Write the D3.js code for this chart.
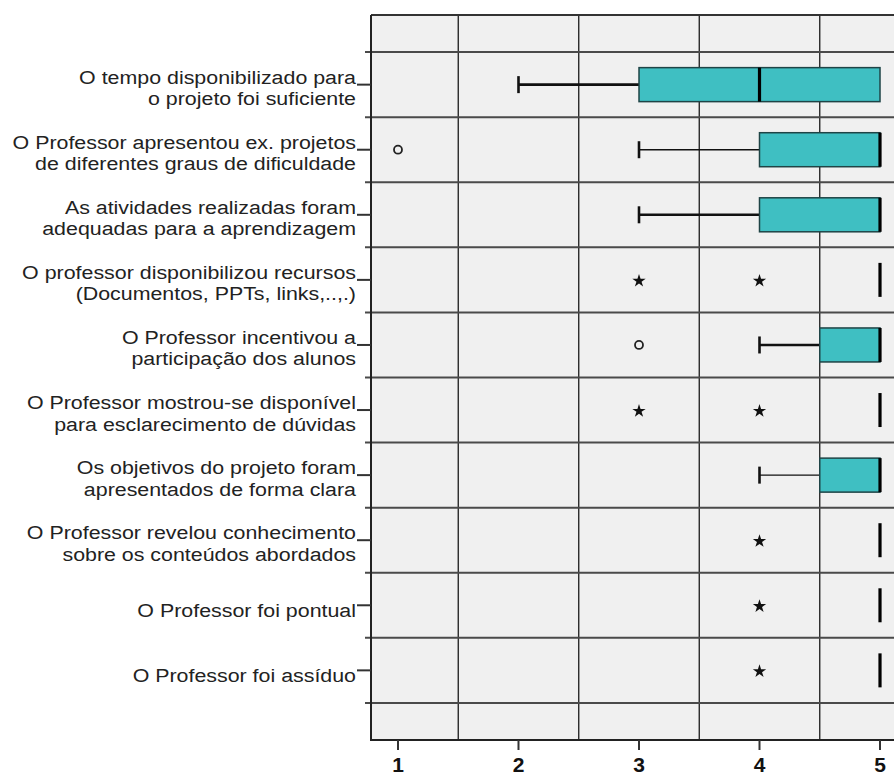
<!DOCTYPE html>
<html>
<head>
<meta charset="utf-8">
<script src="https://cdn.jsdelivr.net/npm/d3@7"></script>
<style>
  html, body { margin: 0; padding: 0; background: #ffffff; }
  svg { display: block; }
  text { font-family: "Liberation Sans", Arial, sans-serif; }
</style>
</head>
<body>
<div id="chart"></div>
<script>
// Survey items (one per row), each split over its display lines
const categories = [
  ["O tempo disponibilizado para", "o projeto foi suficiente"],
  ["O Professor apresentou ex. projetos", "de diferentes graus de dificuldade"],
  ["As atividades realizadas foram", "adequadas para a aprendizagem"],
  ["O professor disponibilizou recursos", "(Documentos, PPTs, links,..,.)"],
  ["O Professor incentivou a", "participação dos alunos"],
  ["O Professor mostrou-se disponível", "para esclarecimento de dúvidas"],
  ["Os objetivos do projeto foram", "apresentados de forma clara"],
  ["O Professor revelou conhecimento", "sobre os conteúdos abordados"],
  ["O Professor foi pontual"],
  ["O Professor foi assíduo"]
];

// Five-number summaries per item (Likert scale 1–5)
const whiskerLow  = [2, 3, 3, 5, 4, 5, 4, 5, 5, 5];
const quartile1   = [3, 4, 4, 5, 4.5, 5, 4.5, 5, 5, 5];
const medians     = [4, 5, 5, 5, 5, 5, 5, 5, 5, 5];
const quartile3   = [5, 5, 5, 5, 5, 5, 5, 5, 5, 5];
const whiskerHigh = [5, 5, 5, 5, 5, 5, 5, 5, 5, 5];

// Outliers (circles) and extreme values (stars)
const outliers = [[], [1], [], [], [3], [], [], [], [], []];
const extremes = [[], [], [], [3, 4], [], [3, 4], [], [4], [4], [4]];

const xTicks = [1, 2, 3, 4, 5];

const W = 894, H = 775;
const plotLeft = 371, plotTop = 15, plotBottom = 740;

const svg = d3.select("#chart").append("svg")
  .attr("width", W).attr("height", H);

const x = d3.scaleLinear().domain([0.776, 5.224]).range([plotLeft, 907]);
const y = d3.scaleLinear().domain([-1.07, categories.length - 1 + 1.07]).range([plotTop, plotBottom]);

// plot background
svg.append("rect")
  .attr("x", plotLeft).attr("y", plotTop)
  .attr("width", x.range()[1] - plotLeft).attr("height", plotBottom - plotTop)
  .attr("fill", "#f0f0f0");

// vertical grid lines between scale points
const vGrid = [1.5, 2.5, 3.5, 4.5];
svg.append("g").selectAll("line").data(vGrid).join("line")
  .attr("x1", d => x(d)).attr("x2", d => x(d))
  .attr("y1", plotTop).attr("y2", plotBottom)
  .attr("stroke", "#1a1a1a").attr("stroke-width", 1.3);

// horizontal grid lines between rows (extending slightly past the axis)
const hGrid = d3.range(categories.length + 1).map(i => i - 0.5);
svg.append("g").selectAll("line").data(hGrid).join("line")
  .attr("x1", plotLeft - 6).attr("x2", W)
  .attr("y1", d => y(d)).attr("y2", d => y(d))
  .attr("stroke", "#4a4a4a").attr("stroke-width", 2);

// frame: top and bottom edges, left axis
svg.append("line").attr("x1", plotLeft).attr("x2", W).attr("y1", plotTop).attr("y2", plotTop)
  .attr("stroke", "#333").attr("stroke-width", 2);
svg.append("line").attr("x1", plotLeft).attr("x2", W).attr("y1", plotBottom).attr("y2", plotBottom)
  .attr("stroke", "#222").attr("stroke-width", 2);
svg.append("line").attr("x1", plotLeft).attr("x2", plotLeft).attr("y1", plotTop).attr("y2", plotBottom + 1)
  .attr("stroke", "#222").attr("stroke-width", 2);

// bottom axis ticks and bold labels
const xAxis = svg.append("g");
xAxis.selectAll("line").data(xTicks).join("line")
  .attr("x1", d => x(d)).attr("x2", d => x(d))
  .attr("y1", plotBottom).attr("y2", plotBottom + 10)
  .attr("stroke", "#333").attr("stroke-width", 2);
xAxis.selectAll("text").data(xTicks).join("text")
  .attr("x", d => x(d)).attr("y", 772)
  .attr("text-anchor", "middle")
  .attr("font-size", 21).attr("font-weight", "bold")
  .attr("fill", "#111")
  .text(d => d);

// category ticks and labels (slightly widened type, tight line spacing)
const rows = svg.append("g").selectAll("g").data(categories).join("g");
rows.append("line")
  .attr("x1", plotLeft - 14).attr("x2", plotLeft)
  .attr("y1", (d, i) => y(i)).attr("y2", (d, i) => y(i))
  .attr("stroke", "#333").attr("stroke-width", 2);
rows.each(function(lines, i) {
  const g = d3.select(this);
  const c = y(i);
  const baselines = lines.length === 2 ? [c - 1, c + 20.5] : [c + 12];
  lines.forEach((t, k) => {
    g.append("text")
      .attr("transform", `translate(356,${baselines[k]}) scale(1.15,1)`)
      .attr("text-anchor", "end")
      .attr("font-size", 18.6)
      .attr("fill", "#222")
      .text(t);
  });
});

// box plots
const boxH = 34;
const thinWhiskerRows = new Set([1, 6]);
const boxes = svg.append("g").selectAll("g").data(categories).join("g");
boxes.each(function(_, i) {
  const g = d3.select(this);
  const c = y(i);
  const sw = thinWhiskerRows.has(i) ? 1.4 : 2.6;
  // lower whisker
  if (whiskerLow[i] < quartile1[i]) {
    g.append("line")
      .attr("x1", x(whiskerLow[i])).attr("x2", x(quartile1[i]))
      .attr("y1", c).attr("y2", c)
      .attr("stroke", "#111").attr("stroke-width", sw);
    g.append("line")
      .attr("x1", x(whiskerLow[i])).attr("x2", x(whiskerLow[i]))
      .attr("y1", c - 8.5).attr("y2", c + 8.5)
      .attr("stroke", "#111").attr("stroke-width", 2.6);
  }
  // upper whisker
  if (whiskerHigh[i] > quartile3[i]) {
    g.append("line")
      .attr("x1", x(quartile3[i])).attr("x2", x(whiskerHigh[i]))
      .attr("y1", c).attr("y2", c)
      .attr("stroke", "#111").attr("stroke-width", sw);
  }
  // interquartile box
  if (quartile3[i] > quartile1[i]) {
    g.append("rect")
      .attr("x", x(quartile1[i])).attr("y", c - boxH / 2)
      .attr("width", x(quartile3[i]) - x(quartile1[i])).attr("height", boxH)
      .attr("fill", "#3fbfc2")
      .attr("stroke", "#1f4446").attr("stroke-width", 1.5);
  }
  // median
  g.append("line")
    .attr("x1", x(medians[i])).attr("x2", x(medians[i]))
    .attr("y1", c - boxH / 2).attr("y2", c + boxH / 2)
    .attr("stroke", "#000").attr("stroke-width", 3.2);
  // outliers
  outliers[i].forEach(v => {
    g.append("circle")
      .attr("cx", x(v)).attr("cy", c).attr("r", 4)
      .attr("fill", "none").attr("stroke", "#222").attr("stroke-width", 1.8);
  });
  // extreme values
  extremes[i].forEach(v => {
    g.append("path")
      .attr("d", d3.symbol(d3.symbolStar, 55)())
      .attr("transform", `translate(${x(v)},${c + 1})`)
      .attr("fill", "#111");
  });
});
</script>
</body>
</html>
